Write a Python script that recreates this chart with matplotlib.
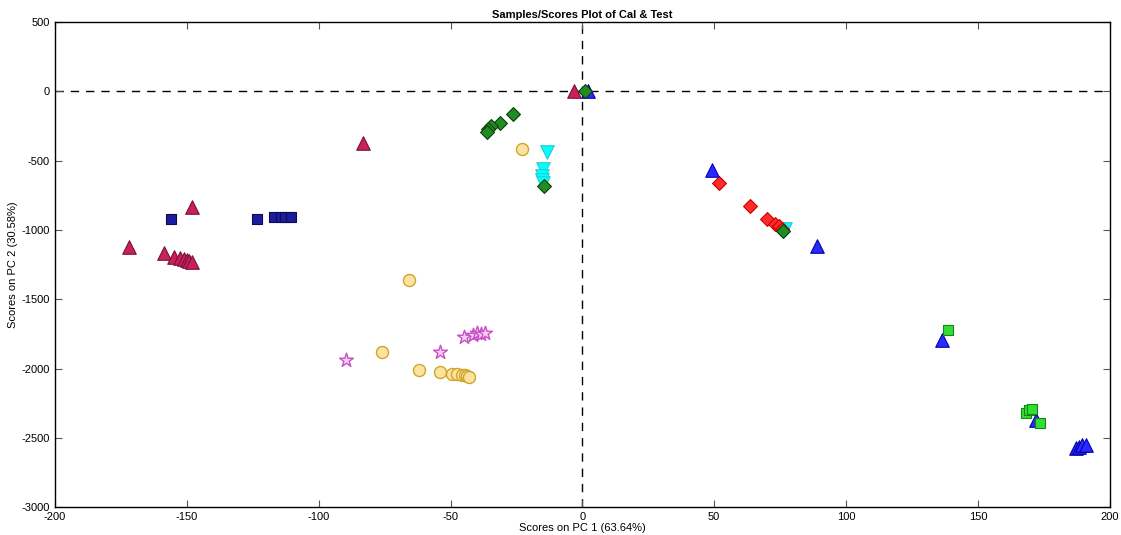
import matplotlib.pyplot as plt

plt.rcParams['font.family'] = ['Liberation Sans', 'DejaVu Sans']
plt.rcParams['axes.unicode_minus'] = False

# scores (PC1, PC2)
tri_crim_x = [-171.8, -158.5, -154.7, -152.4, -150.9, -149.8, -149.0, -148.2, -148.2, -83.0, -3.0]
tri_crim_y = [-1125, -1169, -1198, -1205, -1212, -1220, -1227, -1234, -837, -375, 0]

sq_navy_x = [-155.8, -123.2, -116.8, -114.1, -112.6, -110.3]
sq_navy_y = [-920, -920, -905, -905, -910, -910]

circ_gold_x = [-22.7, -65.6, -75.8, -61.8, -53.8, -49.3, -47.5, -45.6, -44.5, -43.7, -42.9]
circ_gold_y = [-418, -1364, -1883, -2013, -2027, -2040, -2040, -2047, -2050, -2057, -2060]

star_orch_x = [-89.5, -53.8, -44.7, -41.3, -39.8, -38.3, -36.8]
star_orch_y = [-1941, -1883, -1770, -1755, -1745, -1750, -1745]

dia_dg_x = [-26.2, -31.2, -34.6, -35.6, -36.0, -14.4, 76.2, 1.0]
dia_dg_y = [-166, -229, -253, -275, -294, -685, -1005, 0]

tri_cyan_x = [-13.3, -14.8, -15.2, -15.2, -14.8, 77.0]
tri_cyan_y = [-440, -560, -610, -640, -660, -995]

dia_red_x = [51.9, 63.7, 70.1, 73.2, 74.7, 75.8]
dia_red_y = [-664, -830, -925, -955, -975, -995]

tri_blue_x = [49.3, 89.1, 136.5, 172.0, 187.0, 188.5, 189.5, 191.0, 2.0]
tri_blue_y = [-565, -1115, -1795, -2370, -2575, -2565, -2555, -2550, 5]

sq_lime_x = [138.8, 168.3, 169.5, 170.6, 173.6]
sq_lime_y = [-1720, -2320, -2300, -2292, -2392]

fig = plt.figure(figsize=(11.21, 5.35), dpi=100)
ax = fig.add_axes([0.049, 0.052, 0.941, 0.907])

ax.axhline(0, color='k', ls=(0, (6, 5)), lw=1, zorder=1)
ax.axvline(0, color='k', ls=(0, (6, 5)), lw=1, zorder=1)

ax.scatter(tri_crim_x, tri_crim_y, marker='^', s=95, c='#c8215d', edgecolors='#7a1034', lw=0.8, zorder=3)
ax.scatter(sq_navy_x, sq_navy_y, marker='s', s=55, c='#1c1c9c', edgecolors='#0c0c55', lw=0.8, zorder=3)
ax.scatter(circ_gold_x, circ_gold_y, marker='o', s=75, c='#fde3a0', edgecolors='#cfa52e', lw=1.0, zorder=3)
ax.scatter(star_orch_x, star_orch_y, marker='*', s=110, c='#f7d0f3', edgecolors='#c84fc8', lw=1.0, zorder=3)
ax.scatter(dia_dg_x, dia_dg_y, marker='D', s=50, c='#238b23', edgecolors='#0a400a', lw=0.8, zorder=4)
ax.scatter(tri_cyan_x, tri_cyan_y, marker='v', s=95, c='#00ffff', edgecolors='#22cccc', lw=0.8, zorder=3)
ax.scatter(dia_red_x, dia_red_y, marker='D', s=50, c='#ff2a2a', edgecolors='#cc0000', lw=0.8, zorder=3)
ax.scatter(tri_blue_x, tri_blue_y, marker='^', s=95, c='#2a2aff', edgecolors='#0000aa', lw=0.8, zorder=3)
ax.scatter(sq_lime_x, sq_lime_y, marker='s', s=50, c='#33dd33', edgecolors='#118811', lw=0.8, zorder=3)

ax.set_xlim(-200, 200)
ax.set_ylim(-3000, 500)
ax.set_xticks(range(-200, 201, 50))
ax.set_yticks(range(-3000, 501, 500))
ax.tick_params(direction='in', top=True, right=True, labelsize=8, length=5, color='#555555')
for s in ax.spines.values():
    s.set_linewidth(1)

ax.set_title('Samples/Scores Plot of Cal & Test', fontsize=8, fontweight='bold', pad=3)
ax.set_xlabel('Scores on PC 1 (63.64%)', fontsize=8, labelpad=1)
ax.set_ylabel('Scores on PC 2 (30.58%)', fontsize=8, labelpad=3)

fig.savefig('out.png')
